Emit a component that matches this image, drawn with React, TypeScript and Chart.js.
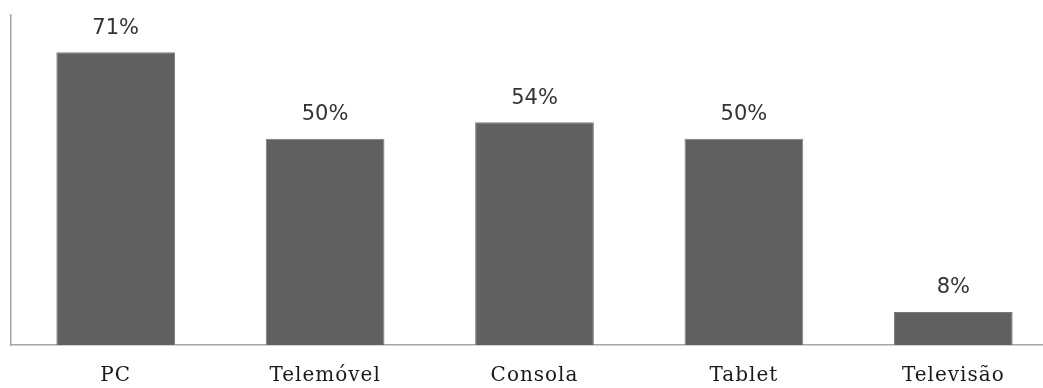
import React, { useEffect, useRef } from "react";
import { Chart, registerables } from "chart.js";

Chart.register(...registerables);

const categories = ["PC", "Telemóvel", "Consola", "Tablet", "Televisão"];
const values = [71, 50, 54, 50, 8];
const valueLabels = ["71%", "50%", "54%", "50%", "8%"];

const spacingPlugin = {
  id: "spacing",
  beforeDraw(chart: any) {
    chart.ctx.letterSpacing = "1px";
  },
};

const labelPlugin = {
  id: "valueLabels",
  afterDatasetsDraw(chart: any) {
    const ctx = chart.ctx;
    const meta = chart.getDatasetMeta(0);
    ctx.save();
    ctx.letterSpacing = "0px";
    ctx.font = '21px "DejaVu Sans", sans-serif';
    ctx.fillStyle = "#333333";
    ctx.textAlign = "center";
    ctx.textBaseline = "middle";
    meta.data.forEach((bar: any, i: number) => {
      ctx.fillText(valueLabels[i], bar.x, bar.y - 24);
    });
    ctx.restore();
  },
};

export default function App() {
  const ref = useRef<HTMLCanvasElement>(null);
  useEffect(() => {
    if (!ref.current) return;
    const chart = new Chart(ref.current, {
      type: "bar",
      data: {
        labels: categories,
        datasets: [
          {
            data: values,
            backgroundColor: "#606060",
            borderColor: "#7a7a7a",
            borderWidth: 1,
            barPercentage: 0.567,
            categoryPercentage: 1,
          },
        ],
      },
      options: {
        animation: false,
        responsive: false,
        maintainAspectRatio: false,
        layout: { padding: { top: 15, left: 11, right: 2, bottom: 0 } },
        plugins: { legend: { display: false }, tooltip: { enabled: false } },
        scales: {
          x: {
            grid: { display: false, drawTicks: false },
            border: { display: true, color: "#a6a6a6", width: 1.5 },
            ticks: {
              color: "#1a1a1a",
              font: { family: '"DejaVu Serif", serif', size: 20 },
              padding: 19,
              maxRotation: 0,
              minRotation: 0,
            },
          },
          y: {
            min: 0,
            max: 80,
            grid: { display: false, drawTicks: false },
            border: { display: true, color: "#a6a6a6", width: 1.5 },
            ticks: { display: false },
          },
        },
      },
      plugins: [spacingPlugin, labelPlugin],
    });
    return () => chart.destroy();
  }, []);
  return (
    <div
      style={{
        position: "fixed",
        left: 0,
        top: 0,
        width: 1043,
        height: 388,
        overflow: "hidden",
        background: "#fff",
      }}
    >
      <canvas ref={ref} width={1060} height={407} style={{ display: "block" }} />
    </div>
  );
}
